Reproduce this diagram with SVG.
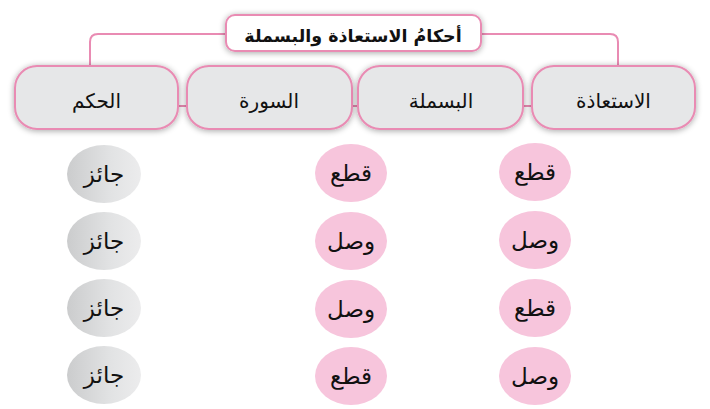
<svg xmlns="http://www.w3.org/2000/svg" width="710" height="409" viewBox="0 0 710 409">
<defs>
<filter id="sh" x="-20%" y="-40%" width="140%" height="180%">
<feGaussianBlur in="SourceAlpha" stdDeviation="3"/>
<feOffset dx="0" dy="1" result="b"/>
<feComponentTransfer><feFuncA type="linear" slope="0.35"/></feComponentTransfer>
<feMerge><feMergeNode/><feMergeNode in="SourceGraphic"/></feMerge>
</filter>
<linearGradient id="gray" x1="0" y1="0" x2="1" y2="0">
<stop offset="0" stop-color="#cbcccd"/>
<stop offset="0.6" stop-color="#e2e3e4"/>
<stop offset="1" stop-color="#ececed"/>
</linearGradient>
<style>
.box{fill:#e6e7e8;stroke:#e98bb3;stroke-width:2}
.title{fill:#ffffff;stroke:#e98bb3;stroke-width:2}
.conn{fill:none;stroke:#e98bb3;stroke-width:2}
.t{font-family:"DejaVu Sans",sans-serif;fill:#111;text-anchor:middle;direction:rtl}
.h{font-size:20px}
.e{font-size:23px}
.pink{fill:#f7c5dc}
.grey{fill:url(#gray)}
</style>
</defs>
<g id="connectors">
<path class="conn" d="M226,34 H98 Q90,34 90,42 V66"/>
<path class="conn" d="M481,34 H610 Q618,34 618,42 V66"/>
<path class="conn" d="M177,106 H188 M351,106 H359 M522,106 H533"/>
</g>
<g id="title">
<rect class="title" x="226" y="15" width="255" height="36" rx="9" filter="url(#sh)"/>
<text class="t" x="353" y="42" font-size="17.5" font-weight="bold">أحكامُ الاستعاذة والبسملة</text>
</g>
<g id="h-hukm">
<rect class="box" x="15" y="66" width="163" height="63" rx="22" filter="url(#sh)"/>
<text class="t h" x="96.5" y="108">الحكم</text>
</g>
<g id="h-sura">
<rect class="box" x="187" y="66" width="165" height="63" rx="22" filter="url(#sh)"/>
<text class="t h" x="269" y="108">السورة</text>
</g>
<g id="h-basmala">
<rect class="box" x="358" y="66" width="165" height="63" rx="22" filter="url(#sh)"/>
<text class="t h" x="441" y="108">البسملة</text>
</g>
<g id="h-istiadha">
<rect class="box" x="532" y="66" width="163" height="63" rx="22" filter="url(#sh)"/>
<text class="t h" x="613.5" y="108">الاستعاذة</text>
</g>
<g id="g1"><ellipse class="grey" cx="104" cy="174" rx="37" ry="29"/><text class="t e" x="104" y="182">جائز</text></g>
<g id="g2"><ellipse class="grey" cx="104" cy="241" rx="37" ry="29"/><text class="t e" x="104" y="249">جائز</text></g>
<g id="g3"><ellipse class="grey" cx="104" cy="308" rx="37" ry="29"/><text class="t e" x="104" y="316">جائز</text></g>
<g id="g4"><ellipse class="grey" cx="104" cy="375" rx="37" ry="29"/><text class="t e" x="104" y="383">جائز</text></g>
<g id="b1"><ellipse class="pink" cx="351" cy="173" rx="36" ry="29"/><text class="t e" x="351" y="181">قطع</text></g>
<g id="b2"><ellipse class="pink" cx="351" cy="241" rx="36" ry="29"/><text class="t e" x="351" y="249">وصل</text></g>
<g id="b3"><ellipse class="pink" cx="351" cy="309" rx="36" ry="29"/><text class="t e" x="351" y="317">وصل</text></g>
<g id="b4"><ellipse class="pink" cx="351" cy="376" rx="36" ry="29"/><text class="t e" x="351" y="384">قطع</text></g>
<g id="a1"><ellipse class="pink" cx="535" cy="172" rx="36" ry="29"/><text class="t e" x="535" y="180">قطع</text></g>
<g id="a2"><ellipse class="pink" cx="535" cy="240" rx="36" ry="29"/><text class="t e" x="535" y="248">وصل</text></g>
<g id="a3"><ellipse class="pink" cx="535" cy="308" rx="36" ry="29"/><text class="t e" x="535" y="316">قطع</text></g>
<g id="a4"><ellipse class="pink" cx="535" cy="376" rx="36" ry="29"/><text class="t e" x="535" y="384">وصل</text></g>
</svg>
